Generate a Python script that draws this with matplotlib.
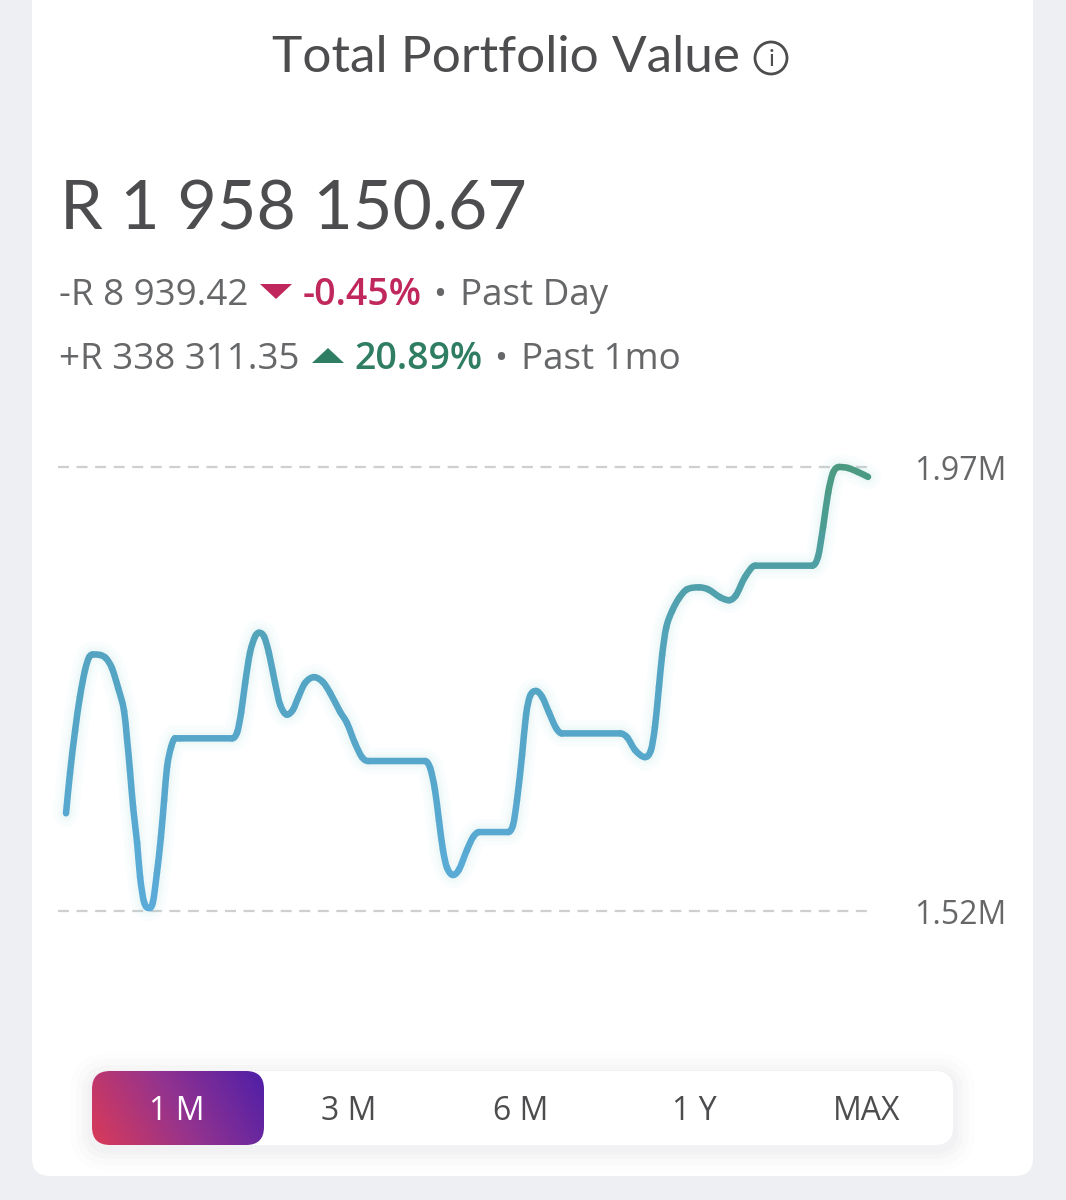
#  Portfolio value card: one month line chart with the range selector below

import numpy as np
import matplotlib
matplotlib.use('Agg')
import matplotlib.pyplot as plt
from matplotlib.colors import LinearSegmentedColormap
from matplotlib.patches import FancyBboxPatch, PathPatch, Circle, Polygon
from matplotlib.path import Path

# day of the month (0 - 30) and portfolio value in thousands of rand
days = [0, 0.15, 0.34, 0.52, 0.71, 0.86, 1.01, 1.27, 1.50, 1.72, 1.95, 2.17, 2.28, 2.39, 2.51,
        2.66, 2.77, 2.92, 3.11, 3.25, 3.40, 3.55, 3.67, 3.78, 3.93, 4.08, 4.26, 6.21, 6.40, 6.55,
        6.70, 6.88, 7.07, 7.22, 7.41, 7.59, 7.82, 8.01, 8.27, 8.49, 8.68, 8.94, 9.28, 9.61, 9.88,
        10.25, 10.51, 10.81, 11.07, 11.30, 13.43, 13.62, 13.80, 13.95, 14.10, 14.25, 14.48, 14.70,
        15.00, 15.23, 15.45, 16.53, 16.72, 16.87, 17.06, 17.21, 17.36, 17.58, 17.81, 18.07, 18.33,
        18.55, 20.73, 20.99, 21.29, 21.66, 21.88, 22.03, 22.18, 22.30, 22.45, 22.67, 22.93, 23.23,
        23.68, 24.02, 24.47, 24.80, 25.06, 25.40, 25.78, 27.91, 28.13, 28.32, 28.51, 28.69, 28.92,
        29.25, 29.62, 30]
values = [1619, 1660, 1703, 1737, 1764, 1777, 1780, 1779.5, 1776, 1766, 1746, 1723, 1695, 1663, 1625,
          1589, 1554.5, 1529, 1523, 1529, 1558.5, 1595, 1632.5, 1666, 1686, 1695, 1695, 1695, 1701, 1721,
          1751, 1781.5, 1798, 1802, 1798, 1781.5, 1751, 1729, 1719, 1724, 1736, 1751, 1757, 1752, 1741,
          1722, 1710.5, 1690, 1676, 1672, 1672, 1665, 1643, 1612, 1582, 1564, 1556.5, 1562,
          1582, 1595, 1600, 1600, 1607, 1632.5, 1678, 1719, 1738, 1743, 1737, 1721, 1705.5,
          1700, 1700, 1696, 1683, 1676, 1683, 1706.5, 1747, 1779.5, 1807, 1824, 1837, 1846,
          1848, 1846, 1838, 1835, 1840, 1858.5, 1870, 1870, 1879, 1909, 1944, 1964, 1970,
          1969, 1965, 1960]

axis_ticks = [1520, 1970]
axis_labels = ['1.52M', '1.97M']
ranges = ['1 M', '3 M', '6 M', '1 Y', 'MAX']

GREY = '#666769'
DARK = '#4d4d4f'
RED = '#c0275c'
GREEN = '#2f7d62'

W, H = 1066, 1200
fig = plt.figure(figsize=(W / 100, H / 100), dpi=100, facecolor='#eeeff3')

# the card and its widgets are laid out in pixels, y going down
ui = fig.add_axes([0, 0, 1, 1])
ui.set_xlim(0, W)
ui.set_ylim(H, 0)
ui.axis('off')

ui.add_patch(FancyBboxPatch((32, -60), 1001, 1236, boxstyle='round,pad=0,rounding_size=18',
                            fc='white', ec='none'))

ui.text(505.5, 58, 'Total Portfolio Value', family='Lato', fontsize=37, color=DARK,
        ha='center', va='center')
ui.add_patch(Circle((771, 58), 16, fc='none', ec=DARK, lw=2))
ui.text(771, 59, 'i', family='Lato', fontsize=17, color=DARK, ha='center', va='center')

ui.text(60, 229, 'R 1 958 150.67', family='Lato', fontsize=49.1, color=DARK, ha='left', va='baseline')

# change rows
ui.text(59, 305, '-R 8 939.42', family='Open Sans', fontsize=26.5, color=GREY, va='baseline')
ui.add_patch(Polygon([(260, 284), (292, 284), (276, 299)], fc=RED, ec='none'))
ui.text(303, 305, '-0.45%', family='Open Sans', fontsize=27, weight='semibold', color=RED, va='baseline')
ui.text(433, 305, '•', family='Open Sans', fontsize=25, color=GREY, va='baseline')
ui.text(460, 305, 'Past Day', family='Open Sans', fontsize=26.5, color=GREY, va='baseline')

ui.text(59, 369, '+R 338 311.35', family='Open Sans', fontsize=26.5, color=GREY, va='baseline')
ui.add_patch(Polygon([(312, 363), (344, 363), (328, 348)], fc=GREEN, ec='none'))
ui.text(354, 369, '20.89%', family='Open Sans', fontsize=27, weight='semibold', color=GREEN, va='baseline')
ui.text(494, 369, '•', family='Open Sans', fontsize=25, color=GREY, va='baseline')
ui.text(521, 369, 'Past 1mo', family='Open Sans', fontsize=26.5, color=GREY, va='baseline')

# range selector with a soft shadow under the white track
for grow, alpha in zip([22, 16, 10, 5], [0.012, 0.015, 0.018, 0.02]):
    ui.add_patch(FancyBboxPatch((92 - grow, 1071 - grow + 4), 861 + 2 * grow, 74 + 2 * grow,
                                boxstyle=f'round,pad=0,rounding_size={18 + grow}',
                                fc='#555566', ec='none', alpha=alpha))
ui.add_patch(FancyBboxPatch((92, 1071), 861, 74, boxstyle='round,pad=0,rounding_size=18',
                            fc='white', ec='none'))

pill = FancyBboxPatch((92, 1071), 172, 74, boxstyle='round,pad=0,rounding_size=18', fc='none', ec='none')
ui.add_patch(pill)
pill_cmap = LinearSegmentedColormap.from_list('pill', ['#d93a58', '#93338f', '#4f1fa8'])
gx, gy = np.meshgrid(np.linspace(0, 1, 172), np.linspace(0, 1, 74))
grad = ui.imshow(gx * 0.8 + (1 - gy) * 0.2, extent=(92, 264, 1145, 1071), cmap=pill_cmap,
                 aspect='auto', zorder=2, origin='upper')
grad.set_clip_path(pill)
ui.set_xlim(0, W)
ui.set_ylim(H, 0)

for label, cx in zip(ranges, [177, 349, 521, 694, 867]):
    ui.text(cx, 1111, label, family='Open Sans', fontsize=23, color='white' if label == '1 M' else DARK,
            ha='center', va='center', zorder=3)

# chart area: runs from the left end of the dashes to the end of the line
ax = fig.add_axes([58 / W, 1 - 911 / H, 810 / W, 444 / H])
ax.patch.set_alpha(0)
ax.set_xlim(-0.3, 30)
ax.set_ylim(axis_ticks[0], axis_ticks[1])
for side in ax.spines.values():
    side.set_visible(False)
ax.set_xticks([])
ax.yaxis.tick_right()
ax.set_yticks(axis_ticks)
ax.set_yticklabels(axis_labels, family='Open Sans', fontsize=23, color=GREY)
ax.tick_params(axis='y', length=0, pad=33.5)

for tick in axis_ticks:
    ax.axhline(tick, color='#cfcfcf', lw=1.6, dashes=(4.95, 3.4), clip_on=False, zorder=1)

# smooth curve through the readings: flat tangents at turning points, so
# the plateaus and peaks don't overshoot
x = np.array(days)
y = np.array(values, dtype=float)
h = np.diff(x)
d = np.diff(y) / h
m = np.zeros(len(x))
m[0], m[-1] = d[0], d[-1]
for i in range(1, len(x) - 1):
    if d[i - 1] * d[i] > 0:
        central = (y[i + 1] - y[i - 1]) / (x[i + 1] - x[i - 1])
        m[i] = np.sign(central) * min(abs(central), 3 * abs(d[i - 1]), 3 * abs(d[i]))

verts = [(x[0], y[0])]
codes = [Path.MOVETO]
pieces = []
for i in range(len(x) - 1):
    c1 = (x[i] + h[i] / 3, y[i] + m[i] * h[i] / 3)
    c2 = (x[i + 1] - h[i] / 3, y[i + 1] - m[i + 1] * h[i] / 3)
    end = (x[i + 1], y[i + 1])
    verts += [c1, c2, end]
    codes += [Path.CURVE4] * 3
    pieces.append(Path([(x[i], y[i]), c1, c2, end], [Path.MOVETO] + [Path.CURVE4] * 3))

# pale glow around the whole line
whole = Path(verts, codes)
for width, alpha in zip([26, 18, 12], [0.03, 0.04, 0.06]):
    ax.add_patch(PathPatch(whole, fc='none', ec='#7fd3cf', lw=width * 0.72, alpha=alpha,
                           capstyle='round', joinstyle='round', clip_on=False, zorder=2))

# stroke colour stays blue through the lower part and turns green near the top
line_cmap = LinearSegmentedColormap.from_list('line', [(0, '#5aabd8'), (0.55, '#54a4c3'),
                                                       (0.8, '#4f9fa2'), (1, '#4b9a80')])
for i, piece in enumerate(pieces):
    level = ((y[i] + y[i + 1]) / 2 - axis_ticks[0]) / (axis_ticks[1] - axis_ticks[0])
    ax.add_patch(PathPatch(piece, fc='none', ec=line_cmap(level), lw=4.7, capstyle='round',
                           clip_on=False, zorder=3))

plt.savefig('out.png', dpi=100, facecolor=fig.get_facecolor())
